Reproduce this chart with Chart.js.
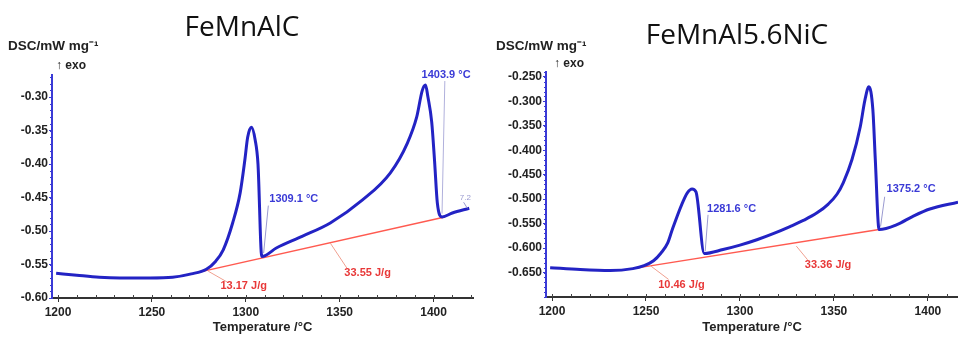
<!DOCTYPE html>
<html>
<head>
<meta charset="utf-8">
<script src="https://cdn.jsdelivr.net/npm/chart.js@4.4.1/dist/chart.umd.min.js"></script>
<style>
  html, body { margin: 0; padding: 0; background: #fff; }
  #wrap { position: relative; width: 958px; height: 338px; overflow: hidden; font-family: "Liberation Sans", Arial, sans-serif; }
  .box { position: absolute; top: 0; width: 479px; height: 338px; }
  .title { position: absolute; font-family: "Open Sans", sans-serif; font-size: 28px; color: #111; transform: translate(-50%, -50%); white-space: nowrap; }
  .ylab { position: absolute; font-weight: bold; font-size: 13.5px; color: #222; white-space: nowrap; }
  .exo { position: absolute; font-weight: bold; font-size: 12px; color: #222; white-space: nowrap; }
</style>
</head>
<body>
<div id="wrap">
  <div class="box" style="left:0"><canvas id="c1" width="479" height="338"></canvas></div>
  <div class="box" style="left:479px"><canvas id="c2" width="479" height="338"></canvas></div>
  <div class="title" style="left:242px; top:25px">FeMnAlC</div>
  <div class="title" style="left:737px; top:33px">FeMnAl5.6NiC</div>
  <div class="ylab" style="left:8px; top:36px">DSC/mW mg⁻¹</div>
  <div class="ylab" style="left:496px; top:36px">DSC/mW mg⁻¹</div>
  <div class="exo" style="left:56px; top:58px">↑ exo</div>
  <div class="exo" style="left:554px; top:56px">↑ exo</div>
</div>
<script>
// ---- data: FeMnAlC ----
const tempA = [1199, 1210, 1222, 1233, 1249, 1261, 1271, 1279, 1284, 1288, 1293, 1297, 1299.5, 1301, 1303, 1305, 1306.5, 1308.5,
  1316.5, 1330, 1345, 1362, 1377, 1386, 1391, 1394, 1395.7, 1397, 1399, 1400.5, 1402, 1404.5, 1410, 1419];
const dscA = [-0.563, -0.566, -0.569, -0.570, -0.570, -0.569, -0.564, -0.557, -0.545, -0.528, -0.488, -0.443, -0.394, -0.360, -0.345, -0.364, -0.400, -0.538,
  -0.525, -0.508, -0.488, -0.454, -0.413, -0.369, -0.330, -0.290, -0.282, -0.300, -0.337, -0.394, -0.458, -0.479, -0.473, -0.466];
const baseTempA = [1271, 1406];
const baseDscA = [-0.564, -0.479];
const yTicksA = [-0.60, -0.55, -0.50, -0.45, -0.40, -0.35, -0.30];

// ---- data: FeMnAl5.6NiC ----
const tempB = [1199, 1215, 1231, 1243, 1249, 1254, 1258, 1261.5, 1264, 1269, 1272, 1274.5, 1276.6, 1281, 1291, 1300, 1309, 1318, 1326.6, 1334, 1341, 1347, 1351.6, 1355, 1359.6,
  1364, 1366.5, 1368.6, 1370.7, 1372, 1374, 1383.5, 1392, 1401, 1416];
const dscB = [-0.640, -0.644, -0.646, -0.642, -0.636, -0.626, -0.610, -0.590, -0.562, -0.511, -0.487, -0.479, -0.485, -0.611, -0.603, -0.594, -0.583, -0.570, -0.556, -0.543, -0.528, -0.510, -0.490, -0.466, -0.419,
  -0.352, -0.297, -0.270, -0.317, -0.419, -0.562, -0.552, -0.535, -0.520, -0.506];
const baseTempB = [1243, 1374];
const baseDscB = [-0.642, -0.562];
const yTicksB = [-0.650, -0.600, -0.550, -0.500, -0.450, -0.400, -0.350, -0.300, -0.250];

const xTicks = [1200, 1250, 1300, 1350, 1400];

// annotations (text and leader lines, in data units)
const notesA = [
  { text: '1309.1 °C', color: '#3a3ad6', x: 1312.5, y: -0.452, lead: [[1312, -0.462], [1309.5, -0.533]], leadColor: '#9a9ad0' },
  { text: '1403.9 °C', color: '#3a3ad6', x: 1393.6, y: -0.2665, lead: [[1406, -0.276], [1404.5, -0.474]], leadColor: '#b0b0dc' },
  { text: '7.2', color: '#9a9ad0', x: 1414, y: -0.450, small: true, lead: [[1416, -0.457], [1418, -0.466]], leadColor: '#9a9ad0' },
  { text: '13.17 J/g', color: '#e83838', x: 1286.5, y: -0.582, lead: [[1280, -0.560], [1290, -0.576]], leadColor: '#f0a090' },
  { text: '33.55 J/g', color: '#e83838', x: 1352.5, y: -0.563, lead: [[1345, -0.518], [1354, -0.556]], leadColor: '#f0a090' }
];
const notesB = [
  { text: '1281.6 °C', color: '#3a3ad6', x: 1282.5, y: -0.520, lead: [[1283, -0.532], [1281.5, -0.606]], leadColor: '#9a9ad0' },
  { text: '1375.2 °C', color: '#3a3ad6', x: 1378, y: -0.480, lead: [[1377, -0.495], [1374.8, -0.556]], leadColor: '#9a9ad0' },
  { text: '10.46 J/g', color: '#e83838', x: 1256.5, y: -0.676, lead: [[1252, -0.635], [1262, -0.664]], leadColor: '#f0a090' },
  { text: '33.36 J/g', color: '#e83838', x: 1334.5, y: -0.634, lead: [[1330, -0.596], [1336, -0.624]], leadColor: '#f0a090' }
];

function pts(xs, ys) { return xs.map((x, i) => ({ x: x, y: ys[i] })); }

// notes + minor ticks plugin
const extrasPlugin = {
  id: 'extras',
  afterDatasetsDraw(chart, args, opts) {
    const ctx = chart.ctx;
    const xs = chart.scales.x, ys = chart.scales.y;
    ctx.save();
    // minor ticks
    ctx.lineWidth = 1;
    ctx.strokeStyle = '#3a3ad6';
    for (let v = opts.yMin; v <= opts.yMax + 1e-9; v += opts.yMinor) {
      const py = Math.round(ys.getPixelForValue(v)) + 0.5;
      ctx.beginPath(); ctx.moveTo(xs.left - 2, py); ctx.lineTo(xs.left, py); ctx.stroke();
    }
    ctx.strokeStyle = '#444';
    for (let v = 1200; v <= xs.max; v += 10) {
      const px = Math.round(xs.getPixelForValue(v)) + 0.5;
      ctx.beginPath(); ctx.moveTo(px, ys.bottom); ctx.lineTo(px, ys.bottom - 3); ctx.stroke();
    }
    // notes
    opts.notes.forEach(n => {
      if (n.lead) {
        ctx.strokeStyle = n.leadColor;
        ctx.lineWidth = 1;
        ctx.beginPath();
        ctx.moveTo(xs.getPixelForValue(n.lead[0][0]), ys.getPixelForValue(n.lead[0][1]));
        ctx.lineTo(xs.getPixelForValue(n.lead[1][0]), ys.getPixelForValue(n.lead[1][1]));
        ctx.stroke();
      }
      ctx.fillStyle = n.color;
      ctx.font = (n.small ? '8px' : 'bold 11px') + ' "Liberation Sans", Arial, sans-serif';
      ctx.textBaseline = 'middle';
      ctx.textAlign = 'left';
      ctx.fillText(n.text, xs.getPixelForValue(n.x), ys.getPixelForValue(n.y));
    });
    ctx.restore();
  }
};

function makeChart(id, curve, base, cfg) {
  const tickFont = { family: '"Liberation Sans", Arial, sans-serif', size: 12, weight: 'bold' };
  return new Chart(document.getElementById(id).getContext('2d'), {
    type: 'line',
    data: {
      datasets: [
        {
          data: base,
          borderColor: '#ff5a50',
          borderWidth: 1.5,
          pointRadius: 0,
          tension: 0,
          order: 2
        },
        {
          data: curve,
          borderColor: '#2323c4',
          borderWidth: 3,
          pointRadius: 0,
          cubicInterpolationMode: 'monotone',
          order: 1
        }
      ]
    },
    options: {
      responsive: false,
      animation: false,
      devicePixelRatio: 1,
      layout: { padding: { top: cfg.top, right: cfg.right, left: 0, bottom: 0 } },
      plugins: {
        legend: { display: false },
        tooltip: { enabled: false },
        extras: { notes: cfg.notes, yMin: cfg.yMin, yMax: cfg.yMax, yMinor: cfg.yMinor }
      },
      scales: {
        x: {
          type: 'linear',
          min: cfg.xMin,
          max: cfg.xMax,
          afterBuildTicks: s => { s.ticks = xTicks.map(v => ({ value: v })); },
          afterFit: s => { s.height = cfg.xH; },
          border: { color: '#333', width: 2 },
          grid: { drawOnChartArea: false, drawTicks: true, tickLength: 4, color: '#333' },
          ticks: { color: '#222', font: tickFont, padding: 3, maxRotation: 0,
                   callback: v => String(v) },
          title: { display: true, text: 'Temperature /°C', color: '#222', padding: { top: 0, bottom: 3 },
                   font: { family: '"Liberation Sans", Arial, sans-serif', size: 13, weight: 'bold' } }
        },
        y: {
          type: 'linear',
          min: cfg.yMin,
          max: cfg.yMax,
          afterBuildTicks: s => { s.ticks = cfg.yTicks.map(v => ({ value: v })); },
          afterFit: s => { s.width = cfg.yW; },
          border: { color: '#3a3ad6', width: 2 },
          grid: { drawOnChartArea: false, drawTicks: true, tickLength: 3, color: '#3a3ad6' },
          ticks: { color: '#222', font: tickFont, padding: 1,
                   callback: v => v.toFixed(cfg.dec) }
        }
      }
    },
    plugins: [extrasPlugin]
  });
}

makeChart('c1', pts(tempA, dscA), pts(baseTempA, baseDscA), {
  top: 75, right: 6, xH: 40, yW: 52,
  xMin: 1196.8, xMax: 1421, yMin: -0.60, yMax: -0.267, yMinor: 0.01,
  yTicks: yTicksA, dec: 2, notes: notesA
});
makeChart('c2', pts(tempB, dscB), pts(baseTempB, baseDscB), {
  top: 72, right: 0, xH: 41, yW: 67,
  xMin: 1196.8, xMax: 1416, yMin: -0.70, yMax: -0.240, yMinor: 0.01,
  yTicks: yTicksB, dec: 3, notes: notesB
});
</script>
</body>
</html>
